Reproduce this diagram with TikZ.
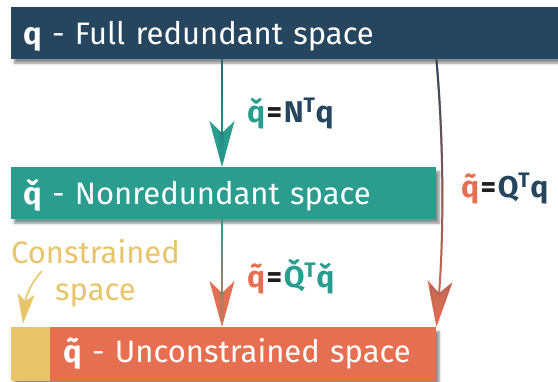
\documentclass[tikz,border=0pt]{standalone}
\usepackage{fontspec}
\setmainfont{Fira Sans}
\usepackage{tikz}
\usetikzlibrary{
arrows.meta,
positioning,
shadows.blur,
fadings,
calc
}
\definecolor{spblue}{HTML}{26465F}
\definecolor{spteal}{HTML}{2A9D8F}
\definecolor{sporange}{HTML}{E76F51}
\definecolor{spyellow}{HTML}{E9C46A}
\definecolor{spblack}{HTML}{1E1E1E}
\tikzfading[name=fadedown, top color=transparent!0, bottom color=transparent!100]
\newcommand{\speq}{\kern1.5pt=\kern1.5pt}

\begin{document}
\begin{tikzpicture}[x=1pt, y=-1pt,
  bar/.style={rectangle, anchor=north west, inner xsep=12pt, inner ysep=0pt,
    text=white, align=left, text height=37pt, text depth=15pt,
    font=\fontsize{31}{36}\selectfont,
    blur shadow={shadow xshift=3pt, shadow yshift=-4pt, shadow blur steps=6, shadow opacity=45}},
  lab/.style={anchor=base west, inner sep=0pt, text=spblack,
    font=\bfseries\fontsize{30}{34}\selectfont},
  tip/.style={line width=2pt, -{Stealth[length=46pt, width=25pt, inset=12pt]}}]
  \useasboundingbox (0,0) rectangle (558,381);
  % Three spaces
  \node[bar, fill=spblue, text width=536pt] (qfull) at (11,7) {\textbf{q} - Full redundant space};
  \node[bar, fill=spteal, text width=401pt] (qnon) at (11,167) {\textbf{\v{q}} - Nonredundant space};
  \node[bar, fill=spyellow, minimum width=39pt, text height=35pt, text depth=19pt, inner xsep=0pt] (qcon) at (11,327) {};
  \node[bar, fill=sporange, text width=360pt, inner xsep=13pt, text height=35pt, text depth=19pt] (qunc) at (50,327) {\textbf{\~{q}} - Unconstrained space};
  % Maps between them
  \coordinate (split) at (222,0);
  \draw[tip, spteal] (qfull.south -| split) -- (qnon.north -| split);
  \draw[tip, spblue, path fading=fadedown, opacity=0.6] (qfull.south -| split) -- (qnon.north -| split);
  \draw[tip, sporange] (qnon.south -| split) -- (qunc.north -| split);
  \draw[tip, spteal, path fading=fadedown] (qnon.south -| split) -- (qunc.north -| split);
  \draw[tip, sporange] (qfull.south -| qnon.east) .. controls +(8,90) and +(7,-88) .. (qunc.north east);
  \draw[tip, spblue, path fading=fadedown] (qfull.south -| qnon.east) .. controls +(8,90) and +(7,-88) .. (qunc.north east);
  % Labels
  \node[lab] (mapn) at (247,122) {\textcolor{spteal}{\v{q}}\speq\textcolor{spblue}{N\textsuperscript{T}q}};
  \node[lab] (mapq) at (461,197) {\textcolor{sporange}{\~{q}}\speq\textcolor{spblue}{Q\textsuperscript{T}q}};
  \node[lab] (mapqc) at (247,287) {\textcolor{sporange}{\~{q}}\speq\textcolor{spteal}{\v{Q}\textsuperscript{T}\v{q}}};
  % Constrained part
  \node[anchor=base, inner sep=0pt, align=center, text=spyellow, font=\fontsize{31}{37}\selectfont] (cstr) at (95.5,300) {Constrained\\space};
  \coordinate (cfrom) at (42,271);
  \coordinate (cto) at (23,324);
  \draw[spyellow, line width=1.6pt, -{Stealth[length=30pt, width=17pt, inset=7pt]}] (cfrom) .. controls (33,280) and (26,295) .. (cto);
\end{tikzpicture}
\end{document}
